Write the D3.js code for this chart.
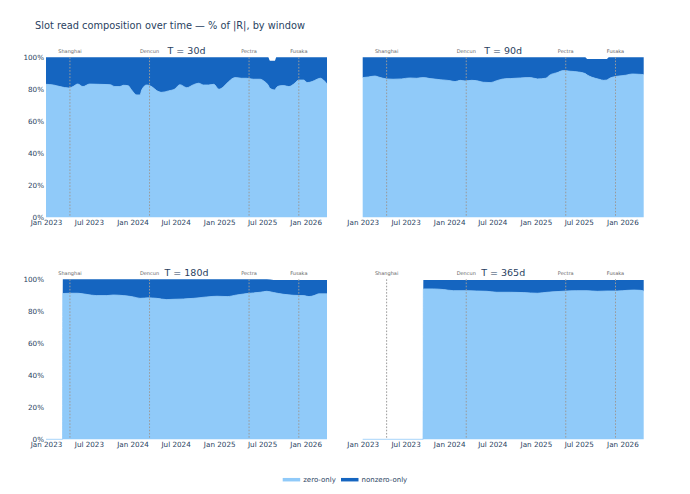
<!DOCTYPE html>
<html>
<head>
<meta charset="utf-8">
<script src="https://cdn.jsdelivr.net/npm/d3@7"></script>
<style>
  html, body { margin: 0; padding: 0; background: #fff; }
  svg { display: block; font-family: "DejaVu Sans", Verdana, sans-serif; }
</style>
</head>
<body>
<div id="chart"></div>
<script>
// --- data ---
const windows = ["30d", "90d", "180d", "365d"];

const dates30 = ["2023-01-01","2023-02-01","2023-03-01","2023-04-08","2023-04-25","2023-05-15","2023-06-06","2023-07-04","2023-08-16","2023-09-28","2023-10-19","2023-11-09","2023-11-23","2023-12-14","2023-12-28","2024-01-19","2024-02-02","2024-02-09","2024-03-01","2024-03-22","2024-04-12","2024-05-03","2024-06-01","2024-06-28","2024-07-19","2024-08-17","2024-09-15","2024-10-06","2024-10-27","2024-11-18","2024-12-09","2024-12-31","2025-01-20","2025-02-10","2025-03-09","2025-04-06","2025-04-27","2025-05-25","2025-06-22","2025-07-12","2025-07-27","2025-08-03","2025-08-24","2025-08-30","2025-09-09","2025-10-01","2025-10-22","2025-11-12","2025-12-03","2025-12-24","2026-01-07","2026-01-28","2026-02-18","2026-03-04","2026-03-17","2026-04-01"];
const zero30 = [83.1,82.7,81.7,80.8,81.7,83.3,81.7,83.3,83.1,82.9,81.7,81.7,82.5,82.2,79.6,76.5,76.5,79.6,82.7,81.7,79.2,78.1,79.0,80.2,82.9,81.0,82.9,83.8,82.7,82.7,83.1,80.0,81.7,84.8,87.3,86.9,86.9,86.3,86.3,84.8,82.5,80.6,79.6,81.0,82.0,82.3,81.7,83.3,85.8,85.8,84.2,84.8,86.3,86.9,85.8,83.3];
const nonzero30 = [16.9,17.3,18.3,19.2,18.3,16.7,18.3,16.7,16.9,17.1,18.3,18.3,17.5,17.8,20.4,23.5,23.5,20.4,17.3,18.3,20.8,21.9,21.0,19.8,17.1,19.0,17.1,16.2,17.3,17.3,16.9,20.0,18.3,15.2,12.7,13.1,13.1,13.7,13.7,15.2,17.5,17.3,18.3,19.0,18.0,17.7,18.3,16.7,14.2,14.2,15.8,15.2,13.7,13.1,14.2,16.7];

const dates90 = ["2023-01-01","2023-01-25","2023-02-22","2023-03-13","2023-04-11","2023-05-09","2023-06-14","2023-07-19","2023-08-16","2023-09-14","2023-10-12","2023-11-24","2024-01-05","2024-01-26","2024-02-16","2024-03-08","2024-04-05","2024-04-26","2024-05-24","2024-06-22","2024-07-20","2024-08-17","2024-09-15","2024-10-27","2024-12-09","2025-01-07","2025-02-11","2025-03-02","2025-03-31","2025-04-28","2025-05-26","2025-06-30","2025-07-28","2025-08-05","2025-08-26","2025-09-24","2025-10-14","2025-10-28","2025-11-05","2025-11-19","2025-12-17","2026-01-15","2026-02-12","2026-03-10","2026-04-01"];
const zero90 = [87.3,87.7,88.3,87.5,86.5,86.3,86.5,87.1,86.9,87.3,86.7,86.0,85.4,84.8,85.6,85.2,85.6,85.4,84.4,84.2,85.4,86.5,86.7,87.1,87.3,86.5,86.9,89.0,90.4,91.7,91.3,90.8,89.8,89.0,87.5,86.3,85.6,85.8,86.6,87.5,88.3,88.8,89.6,89.4,89.2];
const nonzero90 = [12.7,12.3,11.7,12.5,13.5,13.7,13.5,12.9,13.1,12.7,13.3,14.0,14.6,15.2,14.4,14.8,14.4,14.6,15.6,15.8,14.6,13.5,13.3,12.9,12.7,13.5,13.1,11.0,9.6,8.3,8.7,9.2,10.2,10.0,11.5,12.7,13.4,13.2,13.4,12.5,11.7,11.2,10.4,10.6,10.8];

const dates180 = ["2023-01-01","2023-03-12","2023-03-13","2023-04-11","2023-05-15","2023-06-20","2023-08-02","2023-09-14","2023-10-12","2023-11-24","2024-01-05","2024-02-02","2024-03-08","2024-04-12","2024-05-24","2024-06-22","2024-08-03","2024-09-15","2024-11-10","2024-12-23","2025-02-04","2025-03-16","2025-04-28","2025-05-26","2025-06-23","2025-07-21","2025-08-19","2025-10-01","2025-11-12","2025-12-24","2026-01-15","2026-02-05","2026-02-26","2026-04-01"];
const zero180 = [0,0,91.1,91.3,91.3,90.6,89.8,89.8,90.2,89.8,89.0,88.1,88.4,88.1,87.3,87.5,87.7,88.1,89.0,89.4,89.2,90.2,91.1,91.5,91.9,92.5,91.7,90.6,90.0,89.8,89.2,89.8,90.9,90.9];
const nonzero180 = [0,0,8.9,8.7,8.7,9.4,10.2,10.2,9.8,10.2,11.0,11.9,11.6,11.9,12.7,12.5,12.3,11.9,11.0,10.6,10.8,9.8,8.9,8.5,8.1,7.5,7.9,9.0,9.6,9.8,10.4,9.8,8.7,8.7];

const dates365 = ["2023-01-01","2023-09-13","2023-09-14","2023-10-26","2023-12-07","2024-01-19","2024-03-08","2024-04-26","2024-06-08","2024-07-20","2024-09-15","2024-11-10","2025-01-07","2025-02-18","2025-03-31","2025-05-12","2025-06-23","2025-08-05","2025-09-17","2025-10-28","2025-12-10","2026-01-22","2026-02-19","2026-03-18","2026-04-01"];
const zero365 = [0,0,94.0,94.0,93.6,92.9,92.9,92.7,92.5,91.9,91.9,91.7,91.3,91.9,92.3,92.7,92.9,92.9,92.5,92.7,92.7,93.1,93.3,93.1,92.7];
const nonzero365 = [0,0,5.5,5.5,5.9,6.6,6.6,6.8,7.0,7.6,7.6,7.8,8.2,7.6,7.2,6.8,6.6,6.6,7.0,6.8,6.8,6.4,6.2,6.4,6.8];

const upgradeNames = ["Shanghai", "Dencun", "Pectra", "Fusaka"];
const upgradeDates = ["2023-04-12", "2024-03-13", "2025-05-07", "2025-12-03"];

const yTicks = [0, 20, 40, 60, 80, 100];
const seriesNames = ["zero-only", "nonzero-only"];
const seriesColors = ["#90caf9", "#1565c0"];

const seriesByWindow = {
  "30d": [dates30, zero30, nonzero30],
  "90d": [dates90, zero90, nonzero90],
  "180d": [dates180, zero180, nonzero180],
  "365d": [dates365, zero365, nonzero365],
};

// --- layout ---
const width = 690, height = 494;
const plotW = 281, plotH = 160;
const panelPos = [
  { x: 46, y: 57.3 },
  { x: 362.7, y: 57.3 },
  { x: 46, y: 279.3 },
  { x: 362.7, y: 279.3 },
];
const textColor = "#2a3f5f";
const parse = d3.utcParse("%Y-%m-%d");

const svg = d3.select("#chart").append("svg")
  .attr("width", width)
  .attr("height", height);

svg.append("text")
  .attr("x", 35)
  .attr("y", 28.5)
  .attr("font-size", 9.8)
  .attr("fill", textColor)
  .text("Slot read composition over time — % of |R|, by window");

const x = d3.scaleUtc()
  .domain([parse("2023-01-01"), parse("2026-04-01")])
  .range([0, plotW]);
const y = d3.scaleLinear().domain([0, 100]).range([plotH, 0]);

windows.forEach((win, i) => {
  const pos = panelPos[i];
  const [dates, zero, nonzero] = seriesByWindow[win];
  const rows = dates.map((d, j) => ({ date: parse(d), zero: zero[j], nonzero: nonzero[j] }));
  const stacked = d3.stack().keys(["zero", "nonzero"])(rows);

  const g = svg.append("g").attr("transform", `translate(${pos.x},${pos.y})`);

  const area = d3.area()
    .x(d => x(d.data.date))
    .y0(d => y(d[0]))
    .y1(d => y(d[1]))
    .curve(d3.curveMonotoneX);
  const topLine = d3.line()
    .x(d => x(d.data.date))
    .y(d => y(d[1]))
    .curve(d3.curveMonotoneX);

  g.selectAll("path.area")
    .data(stacked)
    .join("path")
    .attr("class", "area")
    .attr("fill", (d, k) => seriesColors[k])
    .attr("d", area);

  // thin trace line along the top of the light series (shows at 0 before data starts)
  g.append("path")
    .datum(stacked[0])
    .attr("fill", "none")
    .attr("stroke", seriesColors[0])
    .attr("stroke-width", 0.8)
    .attr("d", topLine);

  // x axis labels
  const xAxis = g.append("g")
    .attr("transform", `translate(0,${plotH})`)
    .call(d3.axisBottom(x)
      .ticks(d3.utcMonth.every(6))
      .tickFormat(d3.utcFormat("%b %Y"))
      .tickSize(0)
      .tickPadding(3));
  xAxis.select(".domain").remove();
  xAxis.selectAll("text")
    .attr("font-size", 7.2)
    .attr("font-family", "DejaVu Sans")
    .attr("fill", textColor);

  if (i % 2 === 0) {
    const yAxis = g.append("g")
      .call(d3.axisLeft(y)
        .tickValues(yTicks)
        .tickFormat(v => v + "%")
        .tickSize(0)
        .tickPadding(2));
    yAxis.select(".domain").remove();
    yAxis.selectAll("text")
      .attr("font-size", 7.2)
      .attr("font-family", "DejaVu Sans")
      .attr("fill", textColor);
  }

  // upgrade markers
  upgradeDates.forEach((ud, k) => {
    const ux = x(parse(ud));
    g.append("line")
      .attr("x1", ux).attr("x2", ux)
      .attr("y1", 0).attr("y2", plotH)
      .attr("stroke", "#9a9a9a")
      .attr("stroke-width", 1)
      .attr("stroke-dasharray", "1.6,1.6");
    g.append("text")
      .attr("x", ux)
      .attr("y", -4)
      .attr("text-anchor", "middle")
      .attr("font-size", 5)
      .attr("fill", "#666")
      .text(upgradeNames[k]);
  });

  g.append("text")
    .attr("x", plotW / 2)
    .attr("y", -3.3)
    .attr("text-anchor", "middle")
    .attr("font-size", 9.5)
    .attr("fill", textColor)
    .text(`T = ${win}`);
});

// legend
const legendItems = [
  { x: 282.7, label: seriesNames[0], color: seriesColors[0] },
  { x: 341, label: seriesNames[1], color: seriesColors[1] },
];
const legend = svg.append("g").attr("transform", "translate(0,479.7)");
legendItems.forEach(item => {
  legend.append("line")
    .attr("x1", item.x).attr("x2", item.x + 17.5)
    .attr("y1", 0).attr("y2", 0)
    .attr("stroke", item.color)
    .attr("stroke-width", 3.5);
  legend.append("text")
    .attr("x", item.x + 20.5)
    .attr("y", 2.5)
    .attr("font-size", 7)
    .attr("fill", textColor)
    .text(item.label);
});
</script>
</body>
</html>
